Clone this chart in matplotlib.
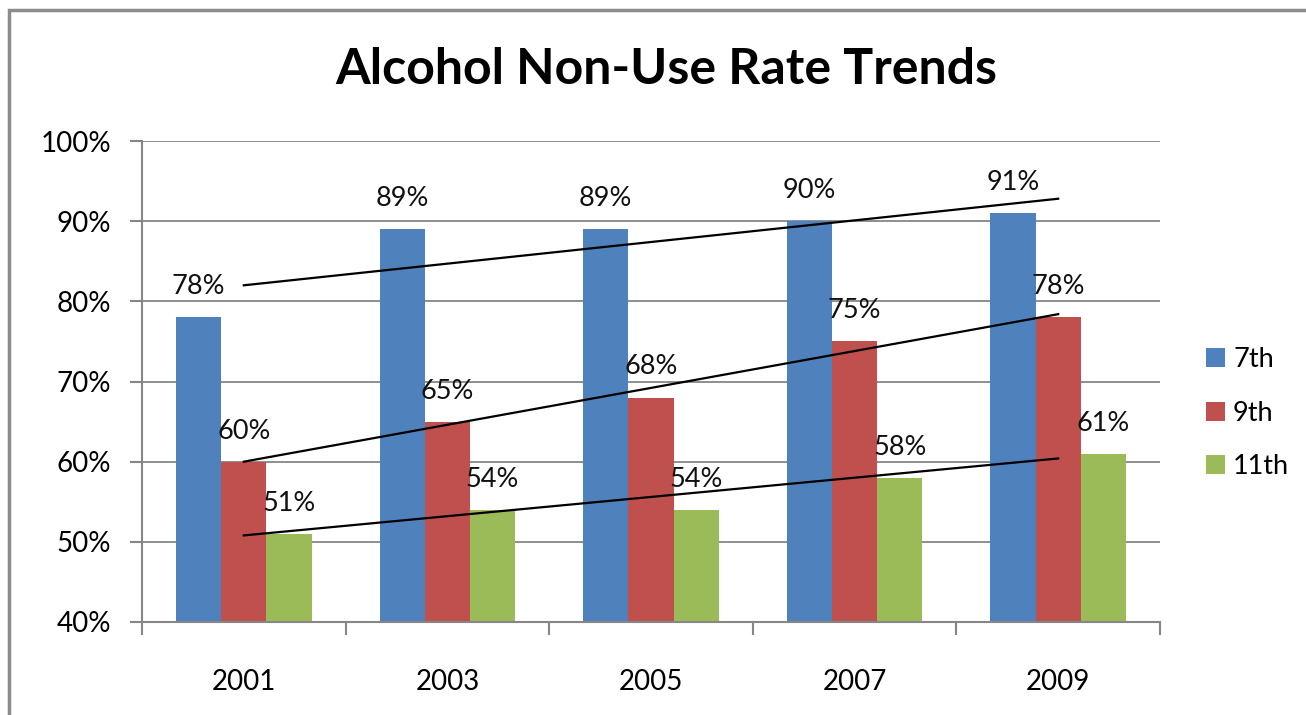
import numpy as np
import matplotlib.pyplot as plt
from matplotlib.patches import Rectangle

plt.rcParams['font.family'] = ['Lato', 'DejaVu Sans']

years = ['2001', '2003', '2005', '2007', '2009']
grades = ['7th', '9th', '11th']
g7 = [78, 89, 89, 90, 91]
g9 = [60, 65, 68, 75, 78]
g11 = [51, 54, 54, 58, 61]
colores = ['#4F81BD', '#C0504D', '#9BBB59']

fig = plt.figure(figsize=(13.06, 7.15), dpi=100)
ax = fig.add_axes([142/1306, 1 - 622/715, (1160 - 142)/1306, (622 - 141)/715])

# marco gris del grafico
fig.patches.append(Rectangle((9/1306, -0.1), 1.2, 1.1 - 10/715, transform=fig.transFigure,
                             fill=False, edgecolor='#8c8c8c', lw=2.5))

x = np.arange(len(years))
w = 1 / 4.5
for k, (serie, nombre) in enumerate(zip([g7, g9, g11], grades)):
    pos = x + (k - 1) * w
    ax.bar(pos, serie, width=w, color=colores[k], label=nombre, zorder=2)
    for px, v in zip(pos, serie):
        ax.annotate(f'{v}%', (px, v), xytext=(0, 22), textcoords='offset points',
                    ha='center', va='center', fontsize=19.5, color='#111111', zorder=4)
    # linea de tendencia lineal
    m, b = np.polyfit(x, serie, 1)
    ax.plot(x, m * x + b, color='black', lw=1.6, zorder=3)

ax.set_xlim(-0.5, 4.5)
ax.set_ylim(40, 100)
ax.set_yticks(range(40, 101, 10))
ax.set_yticklabels([f'{t}%' for t in range(40, 101, 10)])
ax.set_xticks(x)
ax.set_xticklabels(years)
ax.set_xticks(np.arange(-0.5, 5, 1), minor=True)
ax.tick_params(axis='x', which='major', length=0, pad=34, labelsize=20)
ax.tick_params(axis='x', which='minor', length=9, color='#868686', width=1.5)
ax.tick_params(axis='y', length=9, color='#868686', width=1.5, pad=13, labelsize=20)
ax.yaxis.grid(True, color='#868686', lw=1.3, zorder=0)
ax.set_axisbelow(True)
for s in ['top', 'right']:
    ax.spines[s].set_visible(False)
for s in ['left', 'bottom']:
    ax.spines[s].set_color('#868686')
    ax.spines[s].set_linewidth(1.5)

fig.text(666/1306, 1 - 70/715, 'Alcohol Non-Use Rate Trends', ha='center', va='center',
         fontsize=36, fontweight='bold')

fig.legend(loc='center left', bbox_to_anchor=(1206/1306, 1 - 413/715), frameon=False,
           fontsize=19.5, handlelength=0.7, handleheight=0.7, handletextpad=0.3,
           labelspacing=1.05, borderaxespad=0, borderpad=0)

plt.savefig('out.png', dpi=100)
